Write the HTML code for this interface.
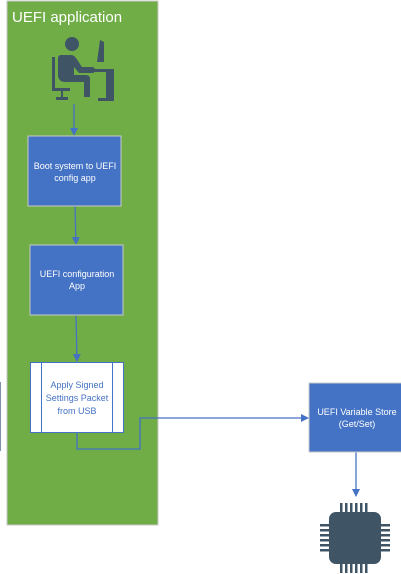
<!DOCTYPE html>
<html><head><style>
body{margin:0;background:#fff;}
svg{display:block;font-family:"Liberation Sans",sans-serif;}
</style></head><body>
<svg width="401" height="574" viewBox="0 0 401 574" xmlns="http://www.w3.org/2000/svg">
<defs><marker id="a" markerWidth="8" markerHeight="8" refX="7" refY="4" orient="auto" markerUnits="userSpaceOnUse"><path d="M0,0 L8,4 L0,8 z" fill="#4472c4"/></marker></defs>
<rect x="7" y="1" width="151" height="524" fill="#70ad47" stroke="#c9c9c9" stroke-width="1"/>
<text x="12" y="22" fill="#fff" font-size="15">UEFI application</text>
<!-- person icon -->
<g fill="#3f5566">
<circle cx="72" cy="44" r="7"/>
<path d="M58,58 q0,-3 3,-3 l10,0 q3,0 5,3 l6,9 l10,0 q3,0 3,3 q0,3 -3,3 l-13,0 l-5,-6 l0,8 l12,0 q4,0 4,4 l0,18 l-6,0 l0,-15 l-19,0 q-6,0 -7,-6 z"/>
<rect x="52" y="57" width="3" height="34"/>
<rect x="52" y="88" width="18" height="3"/>
<rect x="61" y="91" width="2" height="7"/>
<rect x="56" y="97" width="12" height="3"/>
<rect x="80" y="69" width="34" height="3"/>
<rect x="106" y="69" width="8" height="32"/>
<rect x="98" y="98" width="16" height="3"/>
<path d="M100,40 l4,2 l0,20 l-7,0 z"/>
</g>
<g stroke="#4472c4" stroke-width="1.3" fill="none">
<line x1="74" y1="104" x2="74" y2="135" marker-end="url(#a)"/>
<line x1="75" y1="206" x2="76" y2="244" marker-end="url(#a)"/>
<line x1="76" y1="315" x2="77" y2="361" marker-end="url(#a)"/>
<polyline points="77,432 77,449 140,449 140,418 308,418" marker-end="url(#a)"/>
<line x1="356" y1="452" x2="356" y2="496" marker-end="url(#a)"/>
</g>
<rect x="28" y="136" width="93" height="70" fill="#4472c4" stroke="#c9c9c9"/>
<text fill="#fff" font-size="9" text-anchor="middle"><tspan x="75" y="169">Boot system to UEFI</tspan><tspan x="75" y="181">config app</tspan></text>
<rect x="30" y="245" width="93" height="70" fill="#4472c4" stroke="#c9c9c9"/>
<text fill="#fff" font-size="9" text-anchor="middle"><tspan x="77" y="277">UEFI configuration</tspan><tspan x="77" y="289">App</tspan></text>
<rect x="30.5" y="362.5" width="93" height="70" fill="#fff" stroke="#4472c4"/>
<line x1="41.5" y1="362" x2="41.5" y2="432" stroke="#4472c4"/>
<line x1="112.5" y1="362" x2="112.5" y2="432" stroke="#4472c4"/>
<text fill="#4472c4" font-size="9" text-anchor="middle"><tspan x="77" y="388">Apply Signed</tspan><tspan x="77" y="401">Settings Packet</tspan><tspan x="77" y="414">from USB</tspan></text>
<rect x="309" y="383" width="93" height="69" fill="#4472c4" stroke="#c9c9c9"/>
<text fill="#fff" font-size="9" text-anchor="middle"><tspan x="357" y="415">UEFI Variable Store</tspan><tspan x="357" y="427">(Get/Set)</tspan></text>
<line x1="0.5" y1="382" x2="0.5" y2="451" stroke="#7f8fa6"/>
<!-- chip -->
<g fill="#3f5566">
<rect x="329" y="512" width="52" height="52" rx="7"/>
<rect x="340" y="503" width="2.5" height="10"/><rect x="345" y="503" width="2.5" height="10"/><rect x="350" y="503" width="2.5" height="10"/><rect x="355" y="503" width="2.5" height="10"/><rect x="360" y="503" width="2.5" height="10"/><rect x="365" y="503" width="2.5" height="10"/>
<rect x="340" y="563" width="2.5" height="10"/><rect x="345" y="563" width="2.5" height="10"/><rect x="350" y="563" width="2.5" height="10"/><rect x="355" y="563" width="2.5" height="10"/><rect x="360" y="563" width="2.5" height="10"/><rect x="365" y="563" width="2.5" height="10"/>
<rect x="320" y="524" width="10" height="2.5"/><rect x="320" y="529" width="10" height="2.5"/><rect x="320" y="534" width="10" height="2.5"/><rect x="320" y="539" width="10" height="2.5"/><rect x="320" y="544" width="10" height="2.5"/><rect x="320" y="549" width="10" height="2.5"/>
<rect x="380" y="524" width="10" height="2.5"/><rect x="380" y="529" width="10" height="2.5"/><rect x="380" y="534" width="10" height="2.5"/><rect x="380" y="539" width="10" height="2.5"/><rect x="380" y="544" width="10" height="2.5"/><rect x="380" y="549" width="10" height="2.5"/>
</g>
</svg>
</body></html>
